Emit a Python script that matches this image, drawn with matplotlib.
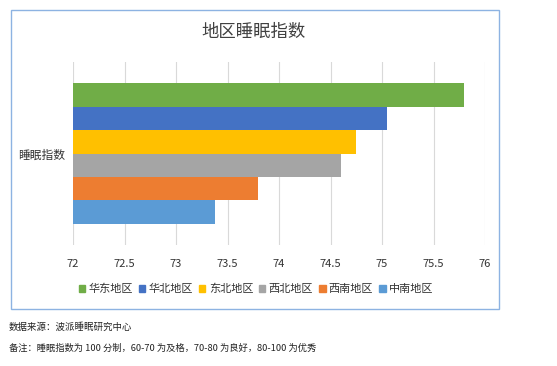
"""地区睡眠指数 — Excel-style clustered horizontal bar chart."""

import matplotlib
matplotlib.use("Agg")
import matplotlib.pyplot as plt
from matplotlib.patches import Rectangle, Patch

plt.rcParams["font.family"] = ["Noto Sans CJK SC", "DejaVu Sans"]

category = "睡眠指数"
regions = ["华东地区", "华北地区", "东北地区", "西北地区", "西南地区", "中南地区"]
values = [75.80, 75.05, 74.75, 74.60, 73.80, 73.38]
colors = ["#70AD47", "#4472C4", "#FFC000", "#A5A5A5", "#ED7D31", "#5B9BD5"]
xticks = [72, 72.5, 73, 73.5, 74, 74.5, 75, 75.5, 76]

fig = plt.figure(figsize=(5.57, 3.66), dpi=100)
fig.patch.set_facecolor("white")

# chart frame
fig.patches.append(Rectangle((11 / 557, 1 - 309 / 366), 488 / 557, 299 / 366,
                             transform=fig.transFigure, fill=False,
                             edgecolor="#8DB3E2", linewidth=1.0))

ax = fig.add_axes([73 / 557, 1 - 245 / 366, 412 / 557, 183 / 366])
n = len(regions)
h = 0.77 / n
for i, (name, v, c) in enumerate(zip(regions, values, colors)):
    y = 0.77 / 2 - h / 2 - i * h
    ax.barh(y, v - 72, left=72, height=h, color=c, label=name, zorder=2)

ax.set_xlim(72, 76)
ax.set_ylim(-0.5, 0.5)
ax.set_xticks(xticks)
ax.set_xticklabels([f"{t:g}" for t in xticks], fontsize=8, color="#333333")
ax.set_yticks([0])
ax.set_yticklabels([category], fontsize=8.5, color="#333333")
ax.tick_params(axis="both", length=0)
ax.tick_params(axis="x", pad=10)
ax.tick_params(axis="y", pad=6)
ax.grid(axis="x", color="#D9D9D9", linewidth=0.8, zorder=0)
for s in ax.spines.values():
    s.set_visible(False)

fig.text(254 / 557, 1 - 32 / 366, "地区睡眠指数", ha="center", va="center",
         fontsize=12.5, color="#404040")

handles = [Patch(facecolor=c, edgecolor=c) for c in colors]
fig.legend(handles, regions, loc="center", bbox_to_anchor=(256 / 557, 1 - 289 / 366),
           ncol=n, frameon=False, fontsize=8, handlelength=0.6, handleheight=0.6,
           handletextpad=0.3, columnspacing=0.5, labelcolor="#333333")

fig.text(9 / 557, 1 - 327 / 366, "数据来源：波派睡眠研究中心", ha="left", va="center",
         fontsize=6.8, color="#222222")
fig.text(9 / 557, 1 - 348 / 366, "备注：睡眠指数为 100 分制，60-70 为及格，70-80 为良好，80-100 为优秀",
         ha="left", va="center", fontsize=6.7, color="#222222")

fig.savefig("out.png", dpi=100)
